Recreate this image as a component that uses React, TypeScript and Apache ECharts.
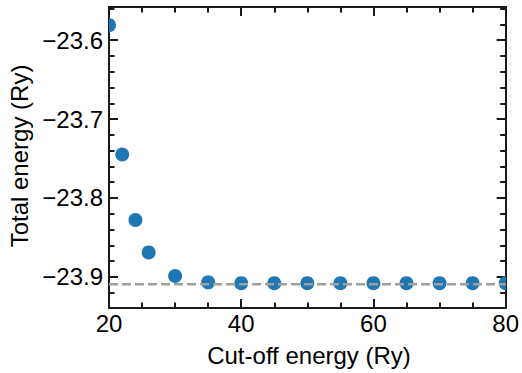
import React, { useEffect, useRef } from "react";
import * as echarts from "echarts";

const cutoffs = [20, 22, 24, 26, 30, 35, 40, 45, 50, 55, 60, 65, 70, 75, 80];
const energies = [
  -23.581, -23.745, -23.828, -23.869, -23.899, -23.907, -23.908, -23.908,
  -23.908, -23.908, -23.908, -23.908, -23.908, -23.908, -23.908,
];
const convergedEnergy = -23.9095;
const yMajorTicks = [-23.9, -23.8, -23.7, -23.6];
const yMinorTicks = [
  -23.92, -23.88, -23.86, -23.84, -23.82, -23.78, -23.76, -23.74, -23.72,
  -23.68, -23.66, -23.64, -23.62, -23.58, -23.56,
];
const xTitle = "Cut-off energy (Ry)";
const yTitle = "Total energy (Ry)";

const FONT = "'Liberation Sans', Arial, Helvetica, sans-serif";
const AXIS_COLOR = "#1a1a1a";

export default function App() {
  const ref = useRef<HTMLDivElement>(null);
  useEffect(() => {
    if (!ref.current) return;
    const chart = echarts.init(ref.current, undefined, { renderer: "svg" });
    const yMin = -23.9395;
    const yMax = -23.558;
    const fmtY = (v: number) => v.toFixed(1).replace("-", "\u2212");
    const baseY = (position: "left" | "right", major: boolean, labels: boolean) => ({
      type: "value",
      position,
      min: yMin,
      max: yMax,
      axisLine: { show: major, lineStyle: { color: AXIS_COLOR, width: 2 } },
      splitLine: { show: false },
      axisTick: {
        show: true,
        inside: true,
        length: major ? 9 : 5.5,
        lineStyle: { color: AXIS_COLOR, width: 2 },
        customValues: major ? yMajorTicks : yMinorTicks,
      },
      axisLabel: labels
        ? {
            show: true,
            customValues: yMajorTicks,
            formatter: fmtY,
            margin: 6,
            fontSize: 24,
            fontFamily: FONT,
            color: "#000",
          }
        : { show: false },
    });
    const baseX = (position: "bottom" | "top", labels: boolean) => ({
      type: "value",
      position,
      min: 20,
      max: 80,
      interval: 20,
      axisLine: { show: true, lineStyle: { color: AXIS_COLOR, width: 2 } },
      splitLine: { show: false },
      axisTick: {
        show: true,
        inside: true,
        length: 9,
        lineStyle: { color: AXIS_COLOR, width: 2 },
      },
      minorTick: {
        show: true,
        splitNumber: 4,
        length: 5.5,
        lineStyle: { color: AXIS_COLOR, width: 2 },
      },
      minorSplitLine: { show: false },
      axisLabel: labels
        ? { show: true, margin: 3, fontSize: 24, fontFamily: FONT, color: "#000" }
        : { show: false },
    });
    chart.setOption({
      animation: false,
      backgroundColor: "#fff",
      grid: { left: 109, right: 12, top: 7, bottom: 65, containLabel: false },
      xAxis: [baseX("bottom", true), baseX("top", false)],
      yAxis: [
        baseY("left", true, true),
        baseY("left", false, false),
        baseY("right", true, false),
        baseY("right", false, false),
      ],
      graphic: [
        {
          type: "text",
          x: 309,
          y: 355,
          style: {
            text: xTitle,
            fontSize: 24,
            fontFamily: FONT,
            fill: "#000",
            textAlign: "center",
            textVerticalAlign: "middle",
          },
        },
        {
          type: "text",
          x: 19,
          y: 156,
          rotation: Math.PI / 2,
          style: {
            text: yTitle,
            fontSize: 24,
            fontFamily: FONT,
            fill: "#000",
            textAlign: "center",
            textVerticalAlign: "middle",
          },
        },
      ],
      series: [
        {
          type: "custom",
          xAxisIndex: 0,
          yAxisIndex: 0,
          clip: true,
          encode: { x: 0, y: 1 },
          data: cutoffs.map((c, i) => [c, energies[i]]),
          renderItem: (params: any, api: any) => {
            const p = api.coord([api.value(0), api.value(1)]);
            return {
              type: "circle",
              shape: { cx: p[0], cy: p[1], r: 7 },
              style: { fill: "#1f77b4" },
            };
          },
          z: 2,
        },
        {
          type: "line",
          xAxisIndex: 0,
          yAxisIndex: 0,
          showSymbol: false,
          symbol: "none",
          data: [
            [cutoffs[0], convergedEnergy],
            [cutoffs[cutoffs.length - 1], convergedEnergy],
          ],
          lineStyle: { color: "#a0a0a0", width: 2.5, type: [9, 4] },
          z: 3,
        },
      ],
    });
    return () => chart.dispose();
  }, []);
  return (
    <div
      ref={ref}
      style={{ position: "fixed", left: 0, top: 0, width: 522, height: 373 }}
    />
  );
}
